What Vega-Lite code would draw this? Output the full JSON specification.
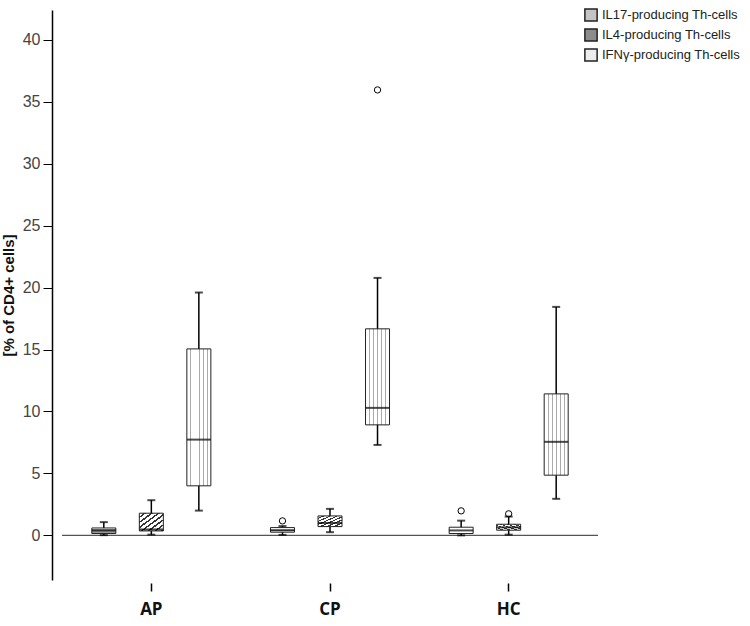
{
  "$schema": "https://vega.github.io/schema/vega-lite/v6.json",
  "autosize": "none",
  "width": 536,
  "height": 570,
  "padding": {"left": 62, "top": 10, "right": 152, "bottom": 46},
  "background": "white",
  "config": {"view": {"stroke": null}},
  "datasets": {
    "boxes": [
      {"group": "AP", "type": "IL17-producing Th-cells", "lo": 0.02, "q1": 0.15, "med": 0.4, "q3": 0.6, "hi": 1.07},
      {"group": "AP", "type": "IL4-producing Th-cells", "lo": 0.06, "q1": 0.36, "med": 0.48, "q3": 1.79, "hi": 2.84},
      {"group": "AP", "type": "IFNγ-producing Th-cells", "lo": 2.0, "q1": 4.0, "med": 7.73, "q3": 15.05, "hi": 19.6},
      {"group": "CP", "type": "IL17-producing Th-cells", "lo": 0.04, "q1": 0.26, "med": 0.42, "q3": 0.63, "hi": 0.75},
      {"group": "CP", "type": "IL4-producing Th-cells", "lo": 0.26, "q1": 0.71, "med": 1.0, "q3": 1.57, "hi": 2.14},
      {"group": "CP", "type": "IFNγ-producing Th-cells", "lo": 7.3, "q1": 8.92, "med": 10.29, "q3": 16.67, "hi": 20.78},
      {"group": "HC", "type": "IL17-producing Th-cells", "lo": 0.0, "q1": 0.15, "med": 0.4, "q3": 0.66, "hi": 1.19},
      {"group": "HC", "type": "IL4-producing Th-cells", "lo": 0.06, "q1": 0.42, "med": 0.65, "q3": 0.9, "hi": 1.52},
      {"group": "HC", "type": "IFNγ-producing Th-cells", "lo": 2.95, "q1": 4.86, "med": 7.55, "q3": 11.42, "hi": 18.44}
    ],
    "outliers": [
      {"group": "CP", "type": "IL17-producing Th-cells", "value": 1.17},
      {"group": "CP", "type": "IFNγ-producing Th-cells", "value": 35.95},
      {"group": "HC", "type": "IL17-producing Th-cells", "value": 1.98},
      {"group": "HC", "type": "IL4-producing Th-cells", "value": 1.74}
    ]
  },
  "layer": [
    {
      "data": {"values": [{"ref": 0}]},
      "mark": {"type": "rule", "color": "#555", "strokeWidth": 1.2},
      "encoding": {
        "y": {
          "field": "ref", "type": "quantitative",
          "scale": {"domain": [-3.6, 42.4], "nice": false, "zero": false},
          "axis": {
            "title": "[% of CD4+ cells]",
            "titleFont": "Liberation Sans", "titleFontSize": 15, "titleFontWeight": "bold", "titleColor": "#111", "titlePadding": 6,
            "values": [0, 5, 10, 15, 20, 25, 30, 35, 40],
            "labelOverlap": false,
            "offset": 10, "grid": false, "ticks": true,
            "domainColor": "#000", "domainWidth": 1.5,
            "tickColor": "#000", "tickWidth": 1, "tickSize": 9,
            "labelFont": "Liberation Sans", "labelFontSize": 16, "labelColor": "#444", "labelPadding": 3
          }
        }
      }
    },
    {
      "data": {"name": "boxes"},
      "encoding": {
        "x": {
          "field": "group", "type": "nominal",
          "scale": {"domain": ["AP", "CP", "HC"], "paddingInner": 0, "paddingOuter": 0},
          "axis": {
            "title": null, "domain": false, "labelAngle": 0, "offset": 3,
            "tickSize": 8, "tickColor": "#000", "tickWidth": 1.5,
            "labelFont": "Open Sans", "labelFontSize": 17, "labelFontWeight": "bold",
            "labelColor": "#111", "labelPadding": 10
          }
        },
        "xOffset": {
          "field": "type", "type": "nominal",
          "scale": {"domain": ["IL17-producing Th-cells", "IL4-producing Th-cells", "IFNγ-producing Th-cells"], "paddingInner": 0, "paddingOuter": 0.38}
        }
      },
      "layer": [
        {
          "mark": {"type": "rule", "color": "#000", "strokeWidth": 1.5},
          "encoding": {
            "y": {"field": "lo", "type": "quantitative"},
            "y2": {"field": "hi"}
          }
        },
        {
          "mark": {"type": "tick", "color": "#000", "size": 8, "thickness": 2},
          "encoding": {"y": {"field": "lo", "type": "quantitative"}}
        },
        {
          "mark": {"type": "tick", "color": "#000", "size": 8, "thickness": 2},
          "encoding": {"y": {"field": "hi", "type": "quantitative"}}
        },
        {
          "mark": {"type": "bar", "width": 24, "stroke": "#222", "strokeWidth": 1},
          "encoding": {
            "y": {"field": "q1", "type": "quantitative"},
            "y2": {"field": "q3"},
            "fill": {
              "field": "type", "type": "nominal",
              "scale": {
                "domain": ["IL17-producing Th-cells", "IL4-producing Th-cells", "IFNγ-producing Th-cells"],
                "range": ["#c4c4c4", "#8c8c8c", "#ececec"]
              },
              "legend": {
                "title": null, "orient": "none", "legendX": 522, "legendY": -2, "padding": 0,
                "symbolType": "square", "symbolSize": 150,
                "labelFont": "Liberation Sans", "labelFontSize": 13, "labelColor": "#222", "labelOffset": 4,
                "rowPadding": 0, "labelLimit": 200
              },
              "condition": [
                {"test": "datum.type === 'IL17-producing Th-cells'", "value": {"gradient": "linear", "x1": 0, "y1": 0, "x2": 0, "y2": 1, "stops": [
                  {"offset": 0, "color": "#ffffff"}, {"offset": 0.1, "color": "#ffffff"}, {"offset": 0.1, "color": "#999999"}, {"offset": 0.167, "color": "#999999"},
                  {"offset": 0.167, "color": "#ffffff"}, {"offset": 0.267, "color": "#ffffff"}, {"offset": 0.267, "color": "#999999"}, {"offset": 0.333, "color": "#999999"},
                  {"offset": 0.333, "color": "#ffffff"}, {"offset": 0.433, "color": "#ffffff"}, {"offset": 0.433, "color": "#999999"}, {"offset": 0.5, "color": "#999999"},
                  {"offset": 0.5, "color": "#ffffff"}, {"offset": 0.6, "color": "#ffffff"}, {"offset": 0.6, "color": "#999999"}, {"offset": 0.667, "color": "#999999"},
                  {"offset": 0.667, "color": "#ffffff"}, {"offset": 0.767, "color": "#ffffff"}, {"offset": 0.767, "color": "#999999"}, {"offset": 0.833, "color": "#999999"},
                  {"offset": 0.833, "color": "#ffffff"}, {"offset": 0.933, "color": "#ffffff"}, {"offset": 0.933, "color": "#999999"}, {"offset": 1, "color": "#999999"}
                ]}},
                {"test": "datum.type === 'IL4-producing Th-cells'", "value": {"gradient": "linear", "x1": 0, "y1": 0, "x2": 1, "y2": 1, "stops": [
                  {"offset": 0, "color": "#ffffff"}, {"offset": 0.09, "color": "#ffffff"}, {"offset": 0.09, "color": "#333333"}, {"offset": 0.143, "color": "#333333"},
                  {"offset": 0.143, "color": "#ffffff"}, {"offset": 0.233, "color": "#ffffff"}, {"offset": 0.233, "color": "#333333"}, {"offset": 0.286, "color": "#333333"},
                  {"offset": 0.286, "color": "#ffffff"}, {"offset": 0.376, "color": "#ffffff"}, {"offset": 0.376, "color": "#333333"}, {"offset": 0.429, "color": "#333333"},
                  {"offset": 0.429, "color": "#ffffff"}, {"offset": 0.519, "color": "#ffffff"}, {"offset": 0.519, "color": "#333333"}, {"offset": 0.571, "color": "#333333"},
                  {"offset": 0.571, "color": "#ffffff"}, {"offset": 0.661, "color": "#ffffff"}, {"offset": 0.661, "color": "#333333"}, {"offset": 0.714, "color": "#333333"},
                  {"offset": 0.714, "color": "#ffffff"}, {"offset": 0.804, "color": "#ffffff"}, {"offset": 0.804, "color": "#333333"}, {"offset": 0.857, "color": "#333333"},
                  {"offset": 0.857, "color": "#ffffff"}, {"offset": 0.947, "color": "#ffffff"}, {"offset": 0.947, "color": "#333333"}, {"offset": 1, "color": "#333333"}
                ]}},
                {"test": "datum.type === 'IFNγ-producing Th-cells'", "value": {"gradient": "linear", "x1": 0, "y1": 0, "x2": 1, "y2": 0, "stops": [
                  {"offset": 0, "color": "#ffffff"}, {"offset": 0.15, "color": "#ffffff"}, {"offset": 0.15, "color": "#aaaaaa"}, {"offset": 0.19, "color": "#aaaaaa"},
                  {"offset": 0.19, "color": "#ffffff"}, {"offset": 0.32, "color": "#ffffff"}, {"offset": 0.32, "color": "#aaaaaa"}, {"offset": 0.36, "color": "#aaaaaa"},
                  {"offset": 0.36, "color": "#ffffff"}, {"offset": 0.49, "color": "#ffffff"}, {"offset": 0.49, "color": "#aaaaaa"}, {"offset": 0.53, "color": "#aaaaaa"},
                  {"offset": 0.53, "color": "#ffffff"}, {"offset": 0.66, "color": "#ffffff"}, {"offset": 0.66, "color": "#aaaaaa"}, {"offset": 0.7, "color": "#aaaaaa"},
                  {"offset": 0.7, "color": "#ffffff"}, {"offset": 0.83, "color": "#ffffff"}, {"offset": 0.83, "color": "#aaaaaa"}, {"offset": 0.87, "color": "#aaaaaa"},
                  {"offset": 0.87, "color": "#ffffff"}, {"offset": 1, "color": "#ffffff"}
                ]}}
              ]
            }
          }
        },
        {
          "mark": {"type": "tick", "color": "#000", "size": 24, "thickness": 2},
          "encoding": {"y": {"field": "med", "type": "quantitative"}}
        },
        {
          "data": {"name": "outliers"},
          "mark": {"type": "point", "shape": "circle", "filled": false, "color": "#000", "size": 40, "strokeWidth": 1, "opacity": 1},
          "encoding": {"y": {"field": "value", "type": "quantitative"}}
        }
      ]
    }
  ]
}
